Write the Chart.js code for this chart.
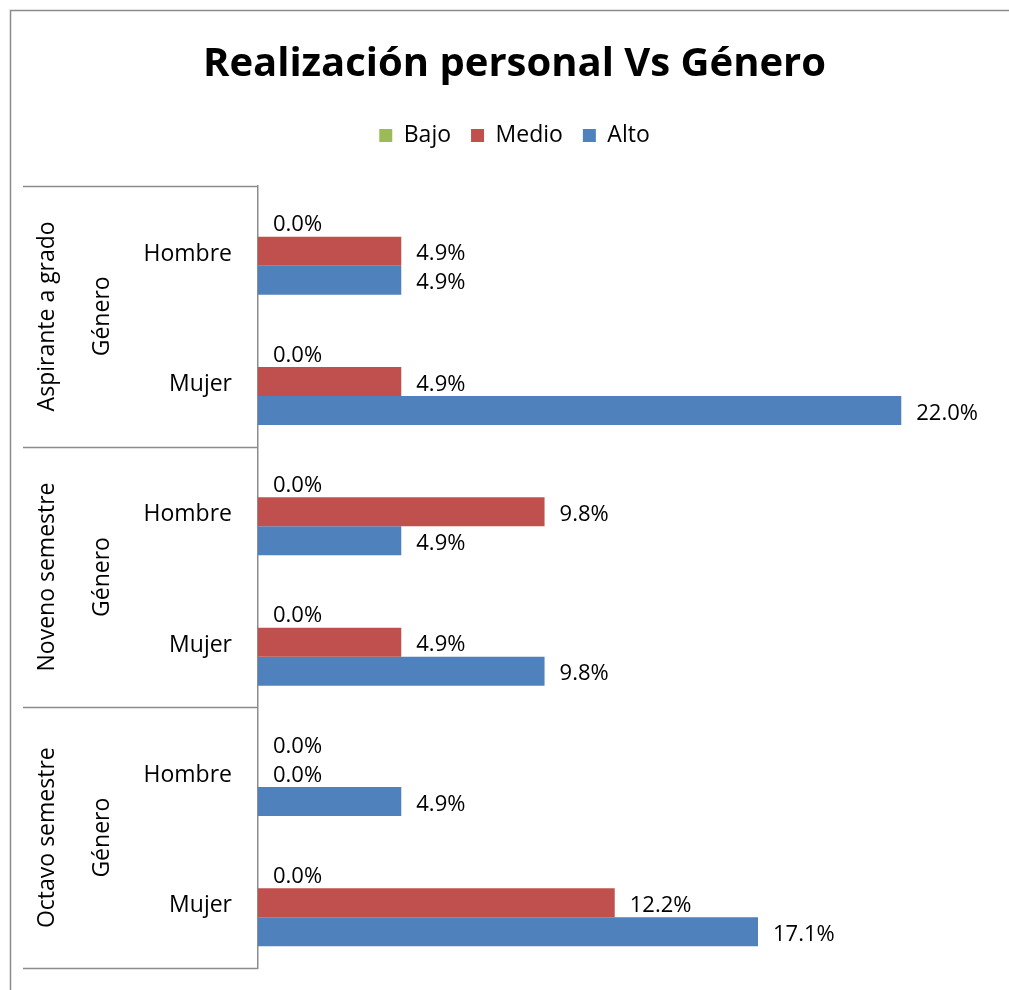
<!DOCTYPE html>
<html>
<head>
<meta charset="utf-8">
<script src="https://cdn.jsdelivr.net/npm/chart.js@4"></script>
<style>
  body { margin: 0; background: #fff; }
  #wrap { width: 1009px; height: 990px; }
</style>
</head>
<body>
<div id="wrap"><canvas id="grafico" width="1009" height="990"></canvas></div>
<script>
const categorias = ['Hombre', 'Mujer', 'Hombre', 'Mujer', 'Hombre', 'Mujer']
const grupos = ['Aspirante a grado', 'Noveno semestre', 'Octavo semestre']
const subgrupo = 'Género'
const bajo = [0, 0, 0, 0, 0, 0]
const medio = [4.9, 4.9, 9.8, 4.9, 0, 12.2]
const alto = [4.9, 22.0, 4.9, 9.8, 4.9, 17.1]

const FUENTE = "'Open Sans', sans-serif"
const gris = '#8c8c8c'

// borde exterior del grafico
const bordeExterior = {
	id: 'bordeExterior',
	beforeDraw(chart) {
		const c = chart.ctx
		c.save()
		c.strokeStyle = gris
		c.lineWidth = 1.5
		c.strokeRect(10.5, 10.5, 1100, 1100)
		c.restore()
	}
}

// deja mas espacio debajo de la leyenda
const espacioLeyenda = {
	id: 'espacioLeyenda',
	beforeInit(chart) {
		const fitOriginal = chart.legend.fit
		chart.legend.fit = function () {
			fitOriginal.bind(chart.legend)()
			this.height += 29
		}
	}
}

// eje de categorias con varios niveles (como en Excel)
const ejeNiveles = {
	id: 'ejeNiveles',
	afterDraw(chart) {
		const c = chart.ctx
		const y = chart.scales.y
		const area = chart.chartArea
		const alto1 = (area.bottom - area.top) / grupos.length
		c.save()
		c.fillStyle = '#000'
		c.font = '23px ' + FUENTE
		c.textBaseline = 'middle'
		c.textAlign = 'right'
		categorias.forEach((cat, i) => {
			c.fillText(cat, area.left - 26, y.getPixelForValue(i) + 3)
		})
		c.strokeStyle = gris
		c.lineWidth = 1.5
		for (let g = 0; g <= grupos.length; g++) {
			const yy = Math.round(area.top + g * alto1) + 0.5
			c.beginPath()
			c.moveTo(23, yy)
			c.lineTo(area.left, yy)
			c.stroke()
		}
		c.textAlign = 'center'
		grupos.forEach((g, i) => {
			const centro = area.top + (i + 0.5) * alto1
			c.save()
			c.translate(47, centro)
			c.rotate(-Math.PI / 2)
			c.fillText(g, 0, 0)
			c.restore()
			c.save()
			c.translate(102, centro)
			c.rotate(-Math.PI / 2)
			c.fillText(subgrupo, 0, 0)
			c.restore()
		})
		c.restore()
	}
}

// etiquetas de valor a la derecha de cada barra
const etiquetasValor = {
	id: 'etiquetasValor',
	afterDatasetsDraw(chart) {
		const c = chart.ctx
		c.save()
		c.fillStyle = '#000'
		c.font = '22px ' + FUENTE
		c.textBaseline = 'middle'
		c.textAlign = 'left'
		chart.data.datasets.forEach((ds, i) => {
			chart.getDatasetMeta(i).data.forEach((barra, j) => {
				c.fillText(ds.data[j].toFixed(1) + '%', barra.x + 15, barra.y + 3)
			})
		})
		c.restore()
	}
}

const chart = new Chart(document.getElementById('grafico'), {
	type: 'bar',
	data: {
		labels: categorias,
		datasets: [
			{ label: 'Bajo', data: bajo, backgroundColor: '#9BBB59' },
			{ label: 'Medio', data: medio, backgroundColor: '#C0504D' },
			{ label: 'Alto', data: alto, backgroundColor: '#4F81BD' }
		]
	},
	options: {
		indexAxis: 'y',
		responsive: false,
		animation: false,
		layout: { padding: { left: 40, right: 20, top: 10, bottom: 22 } },
		datasets: { bar: { categoryPercentage: 0.667, barPercentage: 1.0 } },
		scales: {
			x: { display: false, min: 0, max: 25 },
			y: {
				ticks: { display: false },
				grid: { display: false },
				border: { display: true, color: gris, width: 1.5 },
				afterFit: (s) => { s.width = 218 }
			}
		},
		plugins: {
			tooltip: { enabled: false },
			title: {
				display: true,
				text: 'Realización personal Vs Género',
				color: '#000',
				font: { family: FUENTE, size: 40, weight: 'bold' },
				padding: { top: 31, bottom: 15 }
			},
			legend: {
				position: 'top',
				labels: {
					color: '#000',
					font: { family: FUENTE, size: 23 },
					boxWidth: 13,
					boxHeight: 13,
					padding: 20
				}
			}
		}
	},
	plugins: [bordeExterior, espacioLeyenda, ejeNiveles, etiquetasValor]
})
</script>
</body>
</html>
